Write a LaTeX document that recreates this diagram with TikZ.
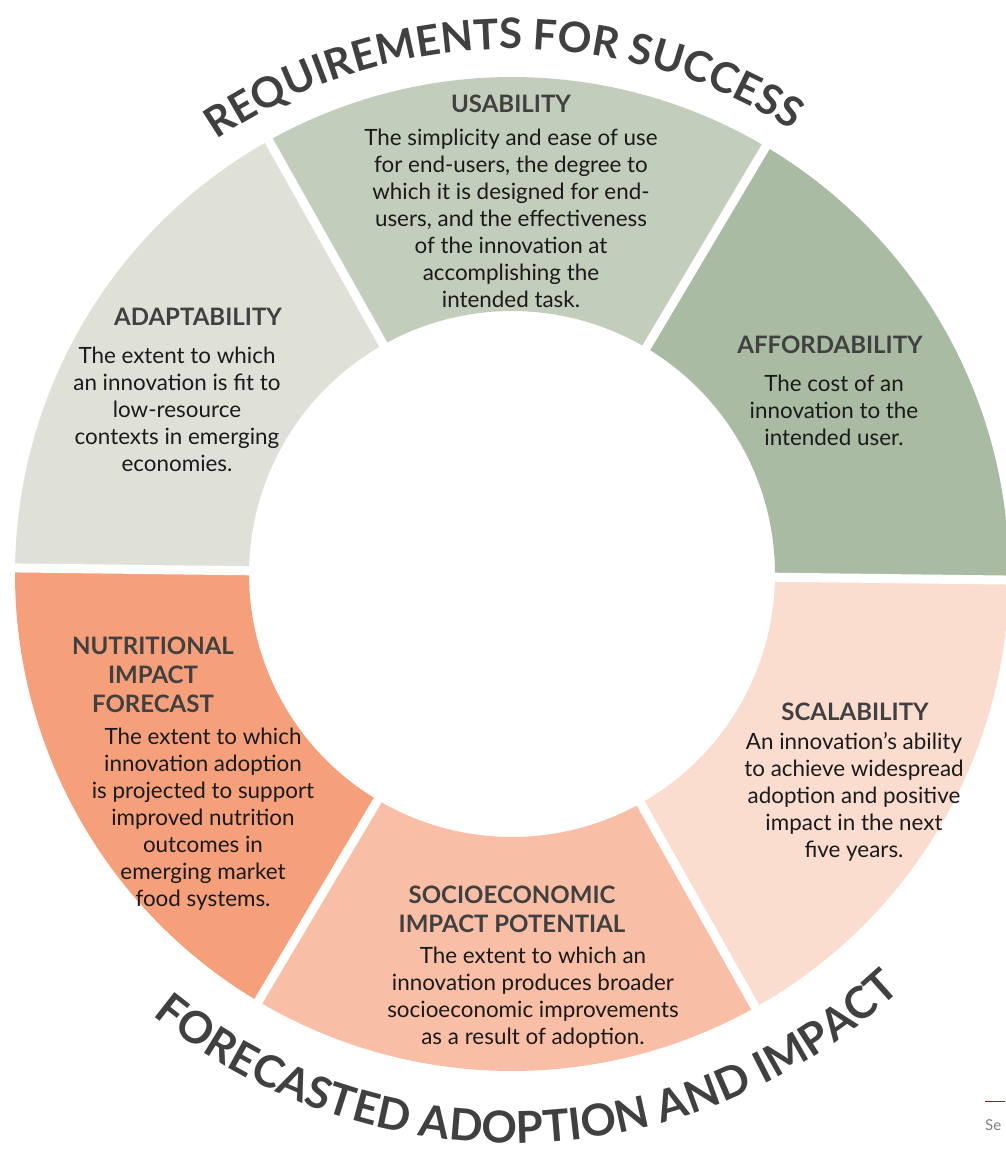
\documentclass[tikz,border=0pt]{standalone}
\usepackage{fontspec}
\setmainfont{Lato}
\usetikzlibrary{positioning,decorations.text}

\definecolor{usab}{HTML}{C3CDBB}
\definecolor{affo}{HTML}{A9BBA3}
\definecolor{adap}{HTML}{DFE1D9}
\definecolor{nutr}{HTML}{F5A07A}
\definecolor{soci}{HTML}{F9BFA6}
\definecolor{scal}{HTML}{FBDDD0}
\definecolor{ink}{HTML}{404040}
\definecolor{copy}{HTML}{1A1A1A}

\tikzstyle{head} = [
        font=\fontsize{24}{29}\selectfont\bfseries,
        text=ink,
        align=center,
        inner sep=0pt
    ]
\tikzstyle{blurb} = [
        font=\fontsize{22.4}{27}\selectfont,
        text=copy,
        align=center,
        inner sep=0pt
    ]
\tikzstyle{gap} = [white, line width=9pt]

\begin{document}
\begin{tikzpicture}[x=1pt, y=1pt]
        \useasboundingbox (-512,-576) rectangle (493,574);
        % ring of six sectors
        \foreach \a/\c in {0/affo, 60/usab, 120/adap, 180/nutr, 240/soci, 300/scal}
            \fill[\c] ({\a-0.7}:497) arc[start angle=\a-0.7, end angle=\a+59.3, radius=497]
                -- ({\a+59.3}:263) arc[start angle=\a+59.3, end angle=\a-0.7, radius=263] -- cycle;
        \foreach \a in {0,60,...,300}
            \draw[gap] ({\a-0.7}:255) -- ({\a-0.7}:505);

        \node(usabh) [head] at (-1,470.5) {USABILITY};
        \node(usabb) [blurb, below=16pt of usabh]
            {The simplicity and ease of use\\for end-users, the degree to\\which it is designed for end-\\users, and the effectiveness\\of the innovation at\\accomplishing the\\intended task.};
        \node(affoh) [head] at (318,229.5) {AFFORDABILITY};
        \node(affob) [blurb, below=21pt of affoh, xshift=4pt]
            {The cost of an\\innovation to the\\intended user.};
        \node(adaph) [head] at (-314,257.5) {ADAPTABILITY};
        \node(adapb) [blurb, below=21pt of adaph, xshift=-21pt]
            {The extent to which\\an innovation is fit to\\low-resource\\contexts in emerging\\economies.};
        \node(nutrh) [head] at (-359,-101) {NUTRITIONAL\\IMPACT\\FORECAST};
        \node(nutrb) [blurb, below=15pt of nutrh, xshift=50pt]
            {The extent to which\\innovation adoption\\is projected to support\\improved nutrition\\outcomes in\\emerging market\\food systems.};
        \node(scalh) [head] at (343,-137.5) {SCALABILITY};
        \node(scalb) [blurb, below=12pt of scalh, xshift=-1pt]
            {An innovation's ability\\to achieve widespread\\adoption and positive\\impact in the next\\five years.};
        \node(socih) [head] at (0,-335.5) {SOCIOECONOMIC\\IMPACT POTENTIAL};
        \node(socib) [blurb, below=14pt of socih, xshift=21pt]
            {The extent to which an\\innovation produces broader\\socioeconomic improvements\\as a result of adoption.};

        \path[decorate, decoration={text along path, text align=center, text color=ink,
            text={|\fontsize{42}{42}\selectfont\bfseries|REQUIREMENTS FOR SUCCESS}}]
            (150:525) arc[start angle=150, end angle=32, radius=525];
        \path[decorate, decoration={text along path, text align=center, text color=ink,
            text={|\fontsize{44}{44}\selectfont\bfseries|FORECASTED ADOPTION AND IMPACT}}]
            (-134:569) arc[start angle=-134, end angle=-42, radius=569];

        \coordinate(rulel) at (473,-527);
        \coordinate(ruler) at (493,-527);
        \draw[color={rgb,255:red,120;green,40;blue,40}, line width=0.8pt] (rulel) -- (ruler);
        \node(pagecut) [anchor=west, inner sep=0pt, text=gray, font=\fontsize{15}{15}\selectfont]
            at (473,-551) {Se};
    \end{tikzpicture}
\end{document}
